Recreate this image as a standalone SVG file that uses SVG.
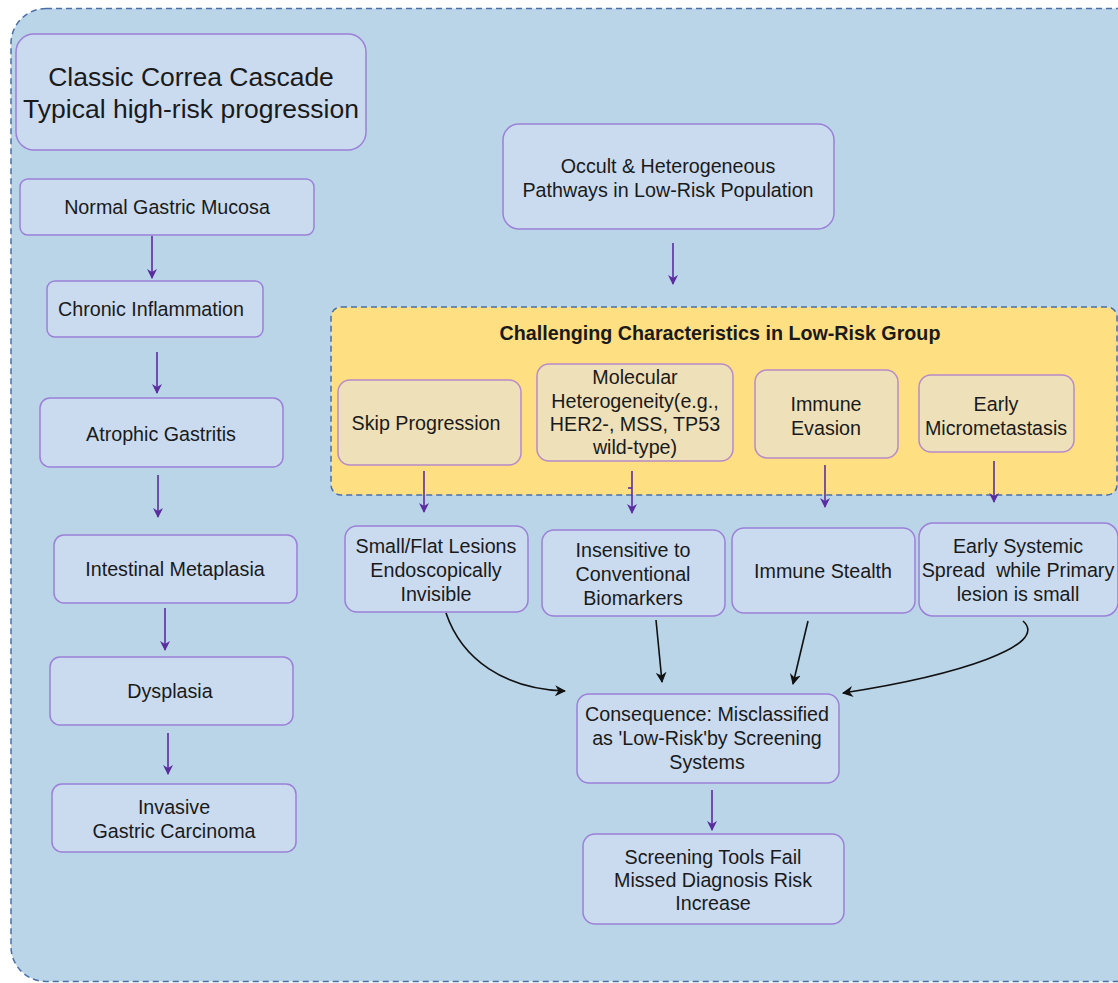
<svg xmlns="http://www.w3.org/2000/svg" width="1118" height="983" viewBox="0 0 1118 983">
<defs>
<style>
text{font-family:"Liberation Sans",Arial,sans-serif;fill:#1a1a1a;text-anchor:middle;dominant-baseline:central}
.n rect{fill:#CADBF0;stroke:#9B80D8;stroke-width:1.5}
.y rect{fill:#EEE0B8;stroke:#B88BC8;stroke-width:1.5}
.t{font-size:19.7px}
.p{stroke:#5B2EA0;stroke-width:1.6;fill:none}
.k{stroke:#111;stroke-width:1.6;fill:none}
</style>
<marker id="mp" viewBox="0 0 10 10" refX="9" refY="5" markerWidth="10" markerHeight="10" markerUnits="userSpaceOnUse" orient="auto"><path d="M0,0 L10,5 L0,10 L3,5 Z" fill="#5B2EA0"/></marker>
<marker id="mk" viewBox="0 0 10 10" refX="9" refY="5" markerWidth="11" markerHeight="11" markerUnits="userSpaceOnUse" orient="auto"><path d="M0,0 L10,5 L0,10 L3,5 Z" fill="#111"/></marker>
</defs>
<rect width="1118" height="983" fill="#fff"/>
<g id="container"><rect x="11" y="8.5" width="1150" height="973" rx="35" fill="#BAD4E8" stroke="#4A6FA5" stroke-width="1.5" stroke-dasharray="6,4"/></g>
<g id="group-lowrisk"><rect x="331" y="307" width="786" height="188" rx="10" fill="#FEDF82" stroke="#4A6FA5" stroke-width="1.5" stroke-dasharray="6,4"/>
<text x="720" y="333" style="font-size:19.7px;font-weight:bold">Challenging Characteristics in Low-Risk Group</text></g>
<g id="title" class="n"><rect x="16" y="34" width="350" height="116" rx="18"/><text x="191" y="77" style="font-size:26.5px">Classic Correa Cascade</text><text x="191" y="109" style="font-size:26.5px">Typical high-risk progression</text></g>
<g id="normal" class="n"><rect x="20" y="179" width="294" height="56" rx="8"/><text class="t" x="167" y="207">Normal Gastric Mucosa</text></g>
<g id="chronic" class="n"><rect x="47" y="281" width="216" height="56" rx="8"/><text class="t" x="151" y="309">Chronic Inflammation</text></g>
<g id="atrophic" class="n"><rect x="40" y="398" width="243" height="69" rx="10"/><text class="t" x="161" y="434">Atrophic Gastritis</text></g>
<g id="intestinal" class="n"><rect x="54" y="535" width="243" height="68" rx="10"/><text class="t" x="175" y="569">Intestinal Metaplasia</text></g>
<g id="dysplasia" class="n"><rect x="50" y="657" width="243" height="68" rx="10"/><text class="t" x="170" y="691">Dysplasia</text></g>
<g id="invasive" class="n"><rect x="52" y="784" width="244" height="68" rx="10"/><text class="t" x="174" y="807">Invasive</text><text class="t" x="174" y="831">Gastric Carcinoma</text></g>
<g id="occult" class="n"><rect x="503" y="124" width="331" height="105" rx="16"/><text class="t" x="668" y="166">Occult &amp; Heterogeneous</text><text class="t" x="668" y="190">Pathways in Low-Risk Population</text></g>
<g id="skip" class="y"><rect x="338" y="380" width="183" height="85" rx="12"/><text class="t" x="426" y="423">Skip Progression</text></g>
<g id="molecular" class="y"><rect x="537" y="364" width="196" height="97" rx="12"/><text class="t" x="635" y="377">Molecular</text><text class="t" x="635" y="401">Heterogeneity(e.g.,</text><text class="t" x="635" y="424">HER2-, MSS, TP53</text><text class="t" x="635" y="447">wild-type)</text></g>
<g id="evasion" class="y"><rect x="755" y="370" width="143" height="88" rx="12"/><text class="t" x="826" y="404">Immune</text><text class="t" x="826" y="428">Evasion</text></g>
<g id="micromet" class="y"><rect x="919" y="375" width="155" height="77" rx="12"/><text class="t" x="996" y="404">Early</text><text class="t" x="996" y="428">Micrometastasis</text></g>
<g id="smallflat" class="n"><rect x="345" y="526" width="183" height="86" rx="12"/><text class="t" x="436" y="546">Small/Flat Lesions</text><text class="t" x="436" y="570">Endoscopically</text><text class="t" x="436" y="594">Invisible</text></g>
<g id="insensitive" class="n"><rect x="542" y="530" width="183" height="86" rx="12"/><text class="t" x="633" y="550">Insensitive to</text><text class="t" x="633" y="574">Conventional</text><text class="t" x="633" y="598">Biomarkers</text></g>
<g id="stealth" class="n"><rect x="732" y="528" width="183" height="85" rx="12"/><text class="t" x="823" y="571">Immune Stealth</text></g>
<g id="systemic" class="n"><rect x="919" y="523" width="199" height="93" rx="14"/><text class="t" x="1018" y="546">Early Systemic</text><text class="t" x="1018" y="570" xml:space="preserve">Spread  while Primary</text><text class="t" x="1018" y="594">lesion is small</text></g>
<g id="consequence" class="n"><rect x="577" y="694" width="262" height="89" rx="12"/><text class="t" x="707" y="714">Consequence: Misclassified</text><text class="t" x="707" y="738">as 'Low-Risk'by Screening</text><text class="t" x="707" y="762">Systems</text></g>
<g id="screening" class="n"><rect x="583" y="834" width="261" height="90" rx="12"/><text class="t" x="713" y="857">Screening Tools Fail</text><text class="t" x="713" y="880">Missed Diagnosis Risk</text><text class="t" x="713" y="903">Increase</text></g>
<g id="connectors">
<path class="p" marker-end="url(#mp)" d="M152,236 V278"/>
<path class="p" marker-end="url(#mp)" d="M157,352 V393"/>
<path class="p" marker-end="url(#mp)" d="M158,475 V517"/>
<path class="p" marker-end="url(#mp)" d="M165,608 V650"/>
<path class="p" marker-end="url(#mp)" d="M168,733 V774"/>
<path class="p" marker-end="url(#mp)" d="M673,243 V284"/>
<path class="p" marker-end="url(#mp)" d="M424,471 V512"/>
<path class="p" marker-end="url(#mp)" d="M632,471 V513"/>
<path class="p" d="M632,488 H628"/>
<path class="p" marker-end="url(#mp)" d="M825,465 V507"/>
<path class="p" marker-end="url(#mp)" d="M994,461 V502"/>
<path class="p" marker-end="url(#mp)" d="M712,790 V830"/>
<path class="k" marker-end="url(#mk)" d="M446,613 C462,660 505,689 565,691"/>
<path class="k" marker-end="url(#mk)" d="M656,620 L662,682"/>
<path class="k" marker-end="url(#mk)" d="M808,621 L793,684"/>
<path class="k" marker-end="url(#mk)" d="M1023,621 C1050,645 960,675 843,693"/>
</g>
</svg>
